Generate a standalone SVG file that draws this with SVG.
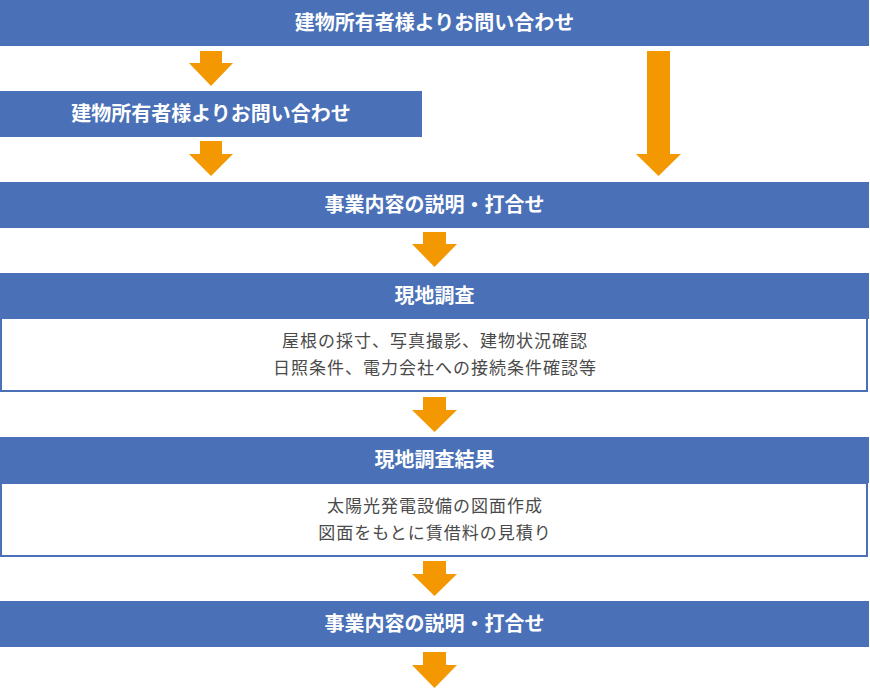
<svg xmlns="http://www.w3.org/2000/svg" width="870" height="688" viewBox="0 0 870 688">
  <style>
    .bar { fill: #4a71b7; }
    .box { fill: #ffffff; stroke: #4a71b7; stroke-width: 2; }
    .ttl { font-family: "Noto Sans CJK JP", "Noto Sans", sans-serif; font-size: 20px; font-weight: bold; fill: #ffffff; text-anchor: middle; }
    .body { font-family: "Noto Sans CJK JP", "Noto Sans", sans-serif; font-size: 17px; letter-spacing: 1px; fill: #4a4a4a; text-anchor: middle; }
    .arr { fill: #f39800; }
  </style>
  <rect width="870" height="688" fill="#ffffff"/>

  <g id="connectors">
    <polygon class="arr" points="200,51 222,51 222,63 233,63 211,86 189,63 200,63"/>
    <polygon class="arr" points="200,141 222,141 222,154 233,154 211,176 189,154 200,154"/>
    <polygon class="arr" points="647,51 670,51 670,154 681,154 658.5,176 636,154 647,154"/>
    <polygon class="arr" points="423,232 446,232 446,244 457,244 434.5,267 412,244 423,244"/>
    <polygon class="arr" points="423,397 446,397 446,410 457,410 434.5,432 412,410 423,410"/>
    <polygon class="arr" points="423,561 446,561 446,574 457,574 434.5,596 412,574 423,574"/>
    <polygon class="arr" points="423,652 446,652 446,665 457,665 434.5,688 412,665 423,665"/>
  </g>

  <g id="node-inquiry-top">
    <rect class="bar" x="0" y="0" width="869" height="46"/>
    <text class="ttl" x="434.5" y="30">建物所有者様よりお問い合わせ</text>
  </g>

  <g id="node-inquiry-left">
    <rect class="bar" x="0" y="91" width="422" height="46"/>
    <text class="ttl" x="211" y="121">建物所有者様よりお問い合わせ</text>
  </g>

  <g id="node-explain-1">
    <rect class="bar" x="0" y="182" width="869" height="46"/>
    <text class="ttl" x="434.5" y="212">事業内容の説明・打合せ</text>
  </g>

  <g id="node-survey">
    <rect class="box" x="1" y="318" width="866" height="73"/>
    <rect class="bar" x="0" y="273" width="869" height="46"/>
    <text class="ttl" x="434.5" y="303">現地調査</text>
    <text class="body" x="435" y="347">屋根の採寸、写真撮影、建物状況確認</text>
    <text class="body" x="435" y="374">日照条件、電力会社への接続条件確認等</text>
  </g>

  <g id="node-survey-result">
    <rect class="box" x="1" y="483" width="866" height="73"/>
    <rect class="bar" x="0" y="437" width="869" height="46"/>
    <text class="ttl" x="434.5" y="467">現地調査結果</text>
    <text class="body" x="435" y="512">太陽光発電設備の図面作成</text>
    <text class="body" x="435" y="539">図面をもとに賃借料の見積り</text>
  </g>

  <g id="node-explain-2">
    <rect class="bar" x="0" y="601" width="869" height="46"/>
    <text class="ttl" x="434.5" y="631">事業内容の説明・打合せ</text>
  </g>
</svg>
